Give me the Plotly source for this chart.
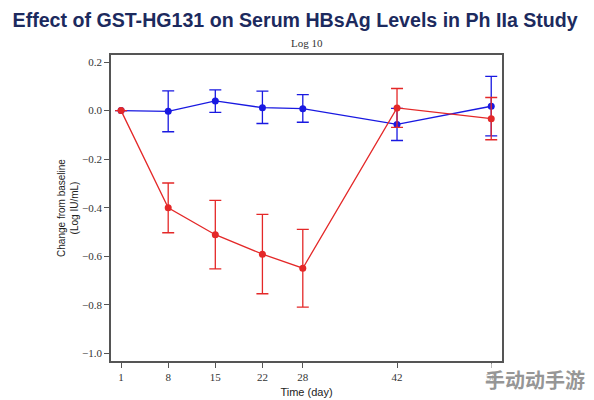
import plotly.graph_objects as go

# Time points (day)
days = [1, 8, 15, 22, 28, 42, 56]

# Placebo-like group (blue)
blue_mean = [0.0, -0.003, 0.040, 0.012, 0.008, -0.057, 0.018]
blue_up = [0.0, 0.084, 0.045, 0.068, 0.058, 0.066, 0.123]
blue_down = [0.0, 0.084, 0.047, 0.065, 0.056, 0.066, 0.122]

# GST-HG131 group (red)
red_mean = [0.0, -0.400, -0.511, -0.591, -0.649, 0.011, -0.033]
red_up = [0.0, 0.102, 0.141, 0.164, 0.160, 0.080, 0.087]
red_down = [0.0, 0.103, 0.141, 0.163, 0.160, 0.080, 0.087]

x_ticks = [1, 8, 15, 22, 28, 42, 56]
y_ticks = [0.2, 0.0, -0.2, -0.4, -0.6, -0.8, -1.0]

BLUE = "rgb(25,25,225)"
RED = "rgb(228,40,40)"
SERIF = "Liberation Serif, Times New Roman"
SANS = "Liberation Sans, Arial"

fig = go.Figure()
for y, up, dn, col in [(blue_mean, blue_up, blue_down, BLUE),
                       (red_mean, red_up, red_down, RED)]:
    fig.add_trace(go.Scatter(
        x=days, y=y, mode="lines+markers",
        line=dict(color=col, width=1.3),
        marker=dict(color=col, size=7),
        error_y=dict(type="data", array=up, arrayminus=dn, symmetric=False,
                     color=col, thickness=1.3, width=6),
        showlegend=False,
    ))

# page has an 8px body margin, so the figure is a bit smaller
fig.update_layout(
    width=586, height=392,
    margin=dict(l=103, r=92, t=47, b=39, autoexpand=False),
    paper_bgcolor="white", plot_bgcolor="white",
    title=dict(text="<b>Effect of GST-HG131 on Serum HBsAg Levels in Ph IIa Study</b>",
               x=0.49, xanchor="center", y=0.97, yanchor="middle",
               font=dict(family=SANS, size=19.6, color="#1c2a5e")),
    annotations=[
        dict(text="Log 10", x=0.5, xref="paper", y=1.039, yref="paper",
             yanchor="middle", showarrow=False,
             font=dict(family=SERIF, size=11, color="#333")),
        dict(text="<b>手动动手游</b>", xref="paper", yref="paper", x=1.084, y=-0.062,
             xanchor="center", yanchor="middle", showarrow=False,
             bgcolor="rgba(255,255,255,0.6)",
             font=dict(family="Noto Sans CJK SC", size=20, color="rgb(150,150,150)")),
    ],
)

fig.update_xaxes(
    range=[-0.5, 57.6], tickvals=x_ticks, ticktext=[str(t) for t in x_ticks],
    ticks="outside", ticklen=5, tickcolor="#555", showgrid=False, zeroline=False,
    showline=True, linecolor="#555", linewidth=1.5, mirror=True, automargin=False,
    tickfont=dict(family=SERIF, size=11, color="#333"),
    title=dict(text="Time (day)", standoff=6,
               font=dict(family=SANS, size=11, color="#222")),
)
fig.update_yaxes(
    range=[-1.031, 0.229], tickvals=y_ticks, tickformat=".1f",
    ticks="outside", ticklen=5, tickcolor="#555", showgrid=False, zeroline=False,
    showline=True, linecolor="#555", linewidth=1.5, mirror=True, automargin=False,
    tickfont=dict(family=SERIF, size=11, color="#333"),
    title=dict(text="Change from baseline<br>(Log IU/mL)", standoff=2,
               font=dict(family=SANS, size=10, color="#222")),
)

fig.write_html("out.html")
